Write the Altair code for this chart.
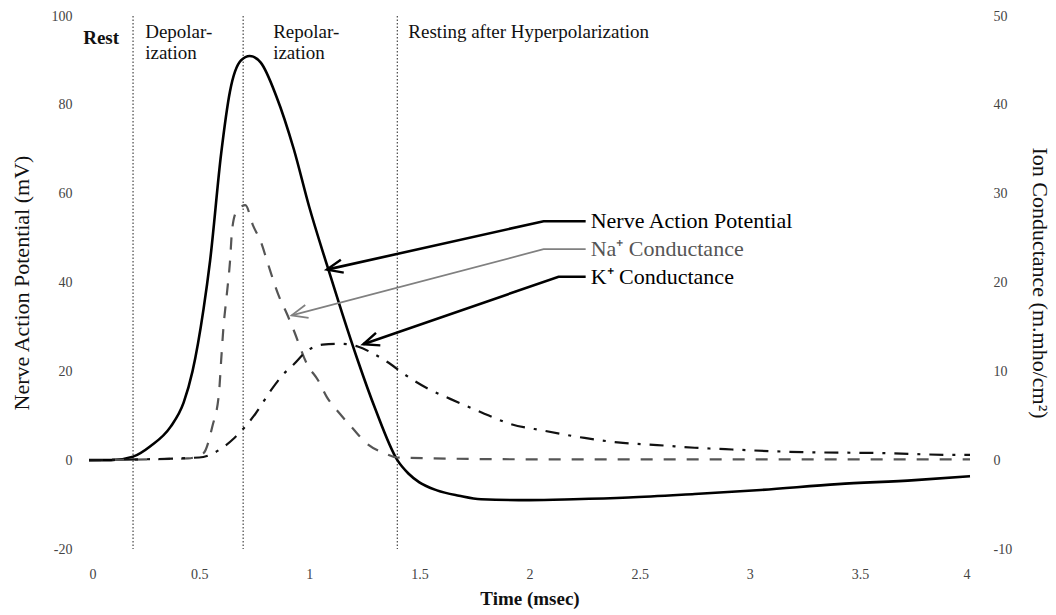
import math
import altair as alt
import pandas as pd

# ---------------- data ----------------
# Nerve action potential (mV, left axis)
ap_t = [0, 0.1, 0.2, 0.28, 0.37, 0.43, 0.47, 0.52, 0.55, 0.6, 0.64, 0.69, 0.73, 0.78, 0.85, 0.93,
        1.0, 1.08, 1.15, 1.22, 1.3, 1.4, 1.45, 1.5, 1.58, 1.68, 1.78, 2.0, 2.2, 2.45, 2.75, 3.05,
        3.4, 3.75, 4.0]
ap_v = [0, 0, 0.8, 3.2, 7.5, 13, 20, 34, 45, 69, 83, 90, 91, 89.5, 82, 70,
        57, 44, 33, 22.5, 11.5, 0, -3, -5, -6.8, -8, -8.8, -9, -8.8, -8.4, -7.6, -6.7,
        -5.4, -4.5, -3.6]

# Na+ conductance (mmho/cm2, right axis)
na_t = [0, 0.45, 0.52, 0.56, 0.59, 0.6, 0.61, 0.625, 0.64, 0.65, 0.67, 0.71, 0.745, 0.78, 0.81,
        0.86, 0.9, 0.93, 0.99, 1.04, 1.08, 1.14, 1.2, 1.26, 1.34, 1.4, 2.0, 3.0, 4.0]
na_g = [0, 0.2, 0.8, 3.8, 7.5, 11.2, 14.8, 18.5, 22.3, 26, 28, 28.7, 26.4, 24.6, 22.3,
        18.6, 16.4, 14.6, 10.8, 9.0, 7.1, 5.2, 3.5, 1.9, 0.8, 0.3, 0.1, 0.1, 0.1]

# K+ conductance (mmho/cm2, right axis)
k_t = [0, 0.5, 0.6, 0.66, 0.71, 0.755, 0.83, 0.88, 0.93, 0.99, 1.06, 1.14, 1.22, 1.29, 1.37,
       1.43, 1.55, 1.64, 1.78, 1.91, 2.07, 2.25, 2.4, 2.58, 2.75, 2.92, 3.24, 3.59, 3.92, 4.0]
k_g = [0, 0.3, 1.3, 2.5, 3.8, 5.2, 8.0, 9.6, 10.8, 12.3, 13.0, 13.1, 12.8, 12.0, 10.8,
       9.7, 7.9, 6.9, 5.4, 4.1, 3.3, 2.5, 2.0, 1.7, 1.4, 1.2, 0.9, 0.8, 0.6, 0.6]

# phase dividers (msec)
div_t = [0.2, 0.7, 1.4]

# phase labels
reg_text = ["Rest", "Depolar-", "ization", "Repolar-", "ization", "Resting after Hyperpolarization"]
reg_t = [0.055, 0.255, 0.255, 0.836, 0.836, 1.45]
reg_v = [95.1, 96.4, 91.7, 96.4, 91.7, 96.4]
reg_weight = ["bold", "normal", "normal", "normal", "normal", "normal"]

# annotation arrows
ann_names = ["Nerve Action Potential", "Na\u207a Conductance", "K\u207a Conductance"]
ann_tip_t = [1.08, 0.92, 1.245]
ann_tip_v = [42.9, 32.6, 26.1]
ann_bend_t = [2.064, 2.064, 2.132]
ann_bend_v = [53.8, 47.5, 41.3]
ann_end_t = [2.255, 2.255, 2.255]
ann_color = ["#000000", "#808080", "#000000"]
ann_width = [2.6, 1.7, 2.6]
ann_head_width = [2.4, 1.8, 2.4]
ann_text_color = ["#000000", "#555555", "#000000"]

# ---------------- layout ----------------
W, H = 881, 533
X_DOM = [0, 4]
YL_DOM = [-20, 100]
YR_DOM = [-10, 50]
SERIF = "Liberation Serif"

sx = W / (X_DOM[1] - X_DOM[0])
sy = H / (YL_DOM[1] - YL_DOM[0])

LBL = "'' + datum.value"

x_axis = alt.Axis(values=[0, 0.5, 1, 1.5, 2, 2.5, 3, 3.5, 4], labelExpr=LBL, domain=False, ticks=False,
                  grid=False, labelFont=SERIF, labelFontSize=14, labelColor="#444", labelPadding=18,
                  title="Time (msec)", titleFont=SERIF, titleFontSize=19, titleFontWeight="bold",
                  titleColor="#111", titlePadding=8)
yl_axis = alt.Axis(values=[-20, 0, 20, 40, 60, 80, 100], labelExpr=LBL, domain=False, ticks=False,
                   grid=False, labelFont=SERIF, labelFontSize=14, labelColor="#444", labelPadding=17,
                   title="Nerve Action Potential (mV)", titleFont=SERIF, titleFontSize=22,
                   titleFontWeight="normal", titleColor="#111", titlePadding=18)
yr_axis = alt.Axis(values=[-10, 0, 10, 20, 30, 40, 50], labelExpr=LBL, orient="right", domain=False,
                   ticks=False, grid=False, labelFont=SERIF, labelFontSize=14, labelColor="#444",
                   labelPadding=23, title="Ion Conductance (m.mho/cm\u00b2)", titleFont=SERIF,
                   titleFontSize=22, titleFontWeight="normal", titleColor="#111", titlePadding=16,
                   titleAngle=90)

xs = alt.Scale(domain=X_DOM, nice=False, zero=False)
yls = alt.Scale(domain=YL_DOM, nice=False, zero=False)
yrs = alt.Scale(domain=YR_DOM, nice=False, zero=False)


def X(field):
    return alt.X(f"{field}:Q", scale=xs, axis=x_axis)


def YL(field):
    return alt.Y(f"{field}:Q", scale=yls, axis=yl_axis)


# ---------------- frames ----------------
ap_df = pd.DataFrame({"t": ap_t, "v": ap_v})
na_df = pd.DataFrame({"t": na_t, "g": na_g})
k_df = pd.DataFrame({"t": k_t, "g": k_g})
div_df = pd.DataFrame({"t": div_t})
reg_df = pd.DataFrame({"txt": reg_text, "t": reg_t, "v": reg_v, "fw": reg_weight})

# ---------------- left layer ----------------
rules = alt.Chart(div_df).mark_rule(color="#555", strokeWidth=1.3, strokeDash=[1.5, 2]).encode(x=X("t"))

ap_line = alt.Chart(ap_df).mark_line(color="black", strokeWidth=2.6, interpolate="monotone").encode(
    x=X("t"), y=YL("v"))

reg_bold = alt.Chart(reg_df[reg_df.fw == "bold"]).mark_text(
    font=SERIF, fontSize=19, fontWeight="bold", align="center", baseline="middle", color="#111").encode(
    x=X("t"), y=YL("v"), text="txt:N")
reg_norm = alt.Chart(reg_df[reg_df.fw == "normal"]).mark_text(
    font=SERIF, fontSize=19, align="left", baseline="middle", color="#111").encode(
    x=X("t"), y=YL("v"), text="txt:N")

ann_layers = []
for i, name in enumerate(ann_names):
    seg = pd.DataFrame({
        "o": [0, 1, 2],
        "t": [ann_tip_t[i], ann_bend_t[i], ann_end_t[i]],
        "v": [ann_tip_v[i], ann_bend_v[i], ann_bend_v[i]],
    })
    dx = (ann_tip_t[i] - ann_bend_t[i]) * sx
    dy = -(ann_tip_v[i] - ann_bend_v[i]) * sy
    ang = math.degrees(math.atan2(dy, dx)) % 360
    head = pd.DataFrame({"t": [ann_tip_t[i]], "v": [ann_tip_v[i]]})
    lab = pd.DataFrame({"t": [ann_end_t[i]], "v": [ann_bend_v[i]], "name": [name]})
    ann_layers.append(alt.Chart(seg).mark_line(color=ann_color[i], strokeWidth=ann_width[i]).encode(
        x=X("t"), y=YL("v"), order="o:Q"))
    ann_layers.append(alt.Chart(head).mark_point(
        shape="M -1 -0.42 L 0 0 L -1 0.42", size=1000, filled=False, opacity=1,
        strokeWidth=ann_head_width[i], color=ann_color[i], angle=ang).encode(x=X("t"), y=YL("v")))
    ann_layers.append(alt.Chart(lab).mark_text(
        font=SERIF, fontSize=22, align="left", baseline="middle", dx=5, color=ann_text_color[i]).encode(
        x=X("t"), y=YL("v"), text="name:N"))

left = alt.layer(rules, ap_line, reg_bold, reg_norm, *ann_layers)

# ---------------- right layer ----------------
na_line = alt.Chart(na_df).mark_line(color="#555", strokeWidth=2.2, strokeDash=[12, 11],
                                     interpolate="monotone").encode(
    x=X("t"), y=alt.Y("g:Q", scale=yrs, axis=yr_axis))
k_line = alt.Chart(k_df).mark_line(color="#111", strokeWidth=2.2, strokeDash=[14, 9, 3, 9],
                                   interpolate="monotone").encode(
    x=X("t"), y=alt.Y("g:Q", scale=yrs, axis=yr_axis))
right = alt.layer(na_line, k_line)

chart = alt.layer(left, right).resolve_scale(y="independent").properties(
    width=W, height=H,
    autosize=alt.AutoSizeParams(type="none"),
    padding={"left": 89, "top": 16, "right": 86, "bottom": 66},
    background="white",
).configure_view(stroke=None)

chart.save("out.html", embed_options={"renderer": "svg", "actions": False})
